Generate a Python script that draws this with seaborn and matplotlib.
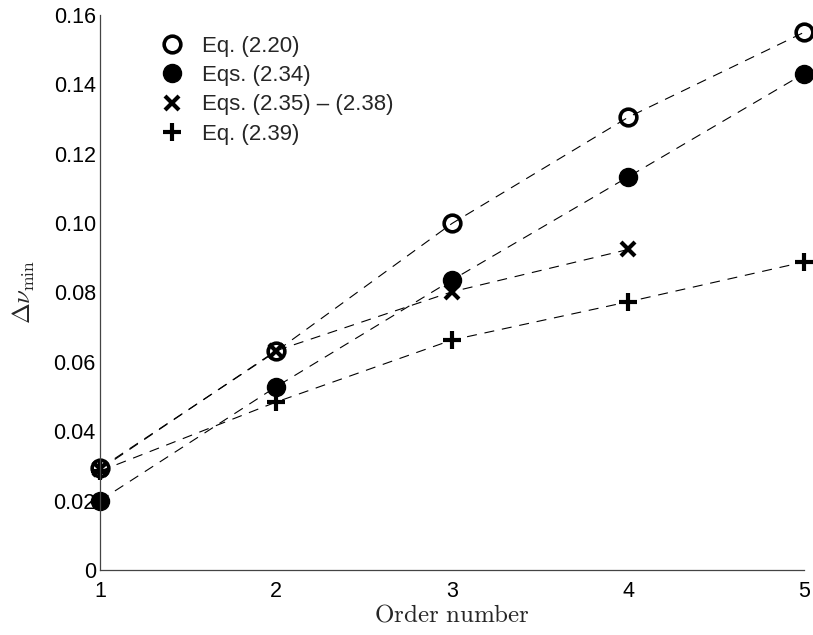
import matplotlib
matplotlib.use("Agg")
import matplotlib.pyplot as plt
import seaborn as sns
from matplotlib.lines import Line2D

# data
orders = [1, 2, 3, 4, 5]
eq_220 = [0.0293, 0.0630, 0.0999, 0.1305, 0.1550]
eq_234 = [0.0200, 0.0528, 0.0836, 0.1133, 0.1431]
orders_235 = [1, 2, 3, 4]
eq_235 = [0.0290, 0.0632, 0.0802, 0.0924]
eq_239 = [0.0285, 0.0484, 0.0663, 0.0773, 0.0888]

labels = ["Eq. (2.20)", "Eqs. (2.34)", "Eqs. (2.35) \u2013 (2.38)", "Eq. (2.39)"]
y_ticks = [0, 0.02, 0.04, 0.06, 0.08, 0.10, 0.12, 0.14, 0.16]
y_tick_labels = ["0", "0.02", "0.04", "0.06", "0.08", "0.10", "0.12", "0.14", "0.16"]

sns.set_theme(style="white")
plt.rcParams["font.family"] = ["Liberation Sans", "DejaVu Sans"]
plt.rcParams["mathtext.fontset"] = "cm"
plt.rcParams["lines.dashed_pattern"] = [9, 7]

fig = plt.figure(figsize=(8.13, 6.35), dpi=100)
ax = fig.add_axes([0.123, 0.1024, 0.866, 0.8740])

line_kw = dict(color="black", linestyle="--", linewidth=0.8, clip_on=False)

styles = [
    dict(marker="o", markersize=12, markerfacecolor="none", markeredgecolor="black", markeredgewidth=2.6),
    dict(marker="o", markersize=13, markerfacecolor="black", markeredgecolor="black", markeredgewidth=1),
    dict(marker="x", markersize=10, markeredgecolor="black", markeredgewidth=3),
    dict(marker="+", markersize=13, markeredgecolor="black", markeredgewidth=3),
]
series = [(orders, eq_220), (orders, eq_234), (orders_235, eq_235), (orders, eq_239)]

for (xs, ys), st in zip(series, styles):
    sns.lineplot(x=xs, y=ys, ax=ax, legend=False, **line_kw, **st)

ax.set_xlim(1, 5)
ax.set_ylim(0, 0.16)
ax.set_xticks(orders)
ax.set_yticks(y_ticks)
ax.set_yticklabels(y_tick_labels)
ax.tick_params(direction="in", length=5, width=0.8, color="#444444",
               labelsize=15.5, labelcolor="black")
ax.tick_params(axis="x", pad=8)
ax.tick_params(axis="y", pad=3)

for side in ["top", "right"]:
    ax.spines[side].set_visible(False)
for side in ["left", "bottom"]:
    ax.spines[side].set_color("#444444")
    ax.spines[side].set_linewidth(0.9)

ax.set_xlabel(r"$\mathrm{Order\ number}$", fontsize=18, labelpad=0)
ax.set_ylabel(r"$\Delta\nu_{\min}$", fontsize=18, labelpad=12)

handles = [Line2D([], [], linestyle="None", **st) for st in styles]
ax.legend(handles, labels, loc="upper left", bbox_to_anchor=(0.055, 0.999),
          frameon=False, fontsize=16, handletextpad=0.75, labelspacing=0.38,
          handlelength=1.2)

fig.savefig("out.png", dpi=100)
